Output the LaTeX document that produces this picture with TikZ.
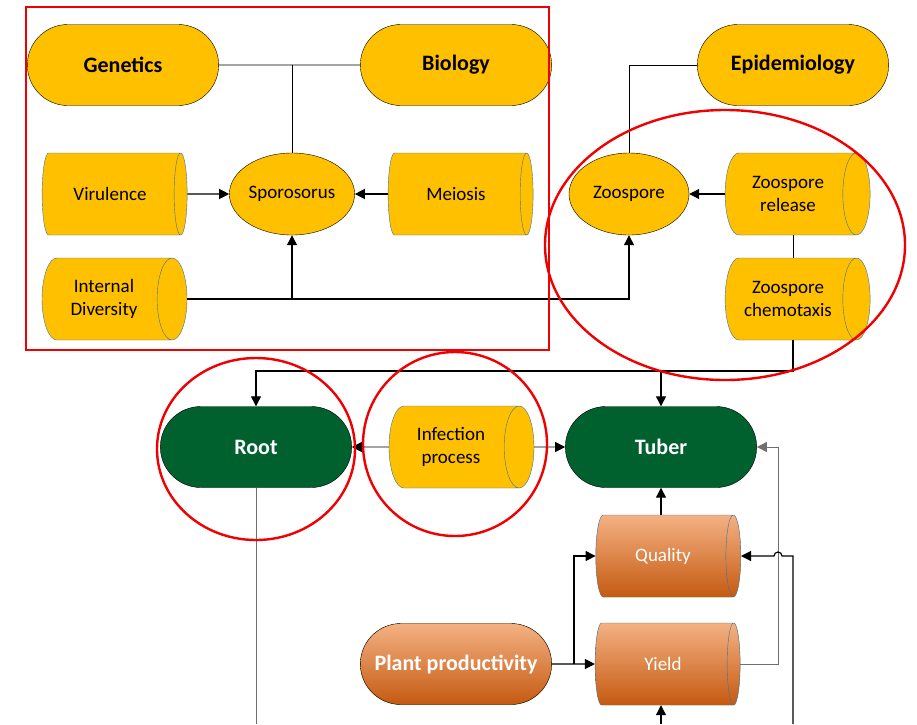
\documentclass[tikz,border=0pt]{standalone}
\usepackage{fontspec}
\setmainfont{Carlito}
\usetikzlibrary{arrows.meta,shapes.geometric,shapes.misc}
\definecolor{Gold}{HTML}{FFC000}
\definecolor{Forest}{HTML}{00612E}
\definecolor{OrangeTop}{HTML}{F4B183}
\definecolor{OrangeMid}{HTML}{ED7D31}
\definecolor{OrangeLow}{HTML}{C55A11}
\definecolor{Rim}{HTML}{41719C}
\definecolor{Alert}{HTML}{F00000}
\definecolor{Wire}{HTML}{6F6F6F}
\tikzset{
  topic/.style={draw=black,fill=Gold,rounded rectangle,minimum width=198pt,minimum height=81pt,font=\fontsize{22}{26}\selectfont\bfseries},
  organ/.style={topic,fill=Forest,text=white},
  driver/.style={topic,top color=OrangeTop,middle color=OrangeMid,bottom color=OrangeLow,text=white},
  factor/.style={draw=Rim,fill=Gold,cylinder,aspect=0.65,minimum width=82pt,minimum height=145pt,align=center,font=\fontsize{19}{23}\selectfont},
  trait/.style={factor,top color=OrangeTop,middle color=OrangeMid,bottom color=OrangeLow,text=white},
  stage/.style={draw=black,fill=Gold,ellipse,minimum width=120pt,minimum height=82pt,inner sep=1pt,font=\fontsize{19}{23}\selectfont},
  link/.style={line width=0.8pt,color=black},
  wire/.style={line width=0.8pt,color=Wire},
  feed/.style={-{Triangle[length=10pt,width=10pt]},line width=1.2pt},
  highlight/.style={draw=Alert,line width=2.4pt}
}
\begin{document}
\begin{tikzpicture}[x=1pt,y=-1pt]
  \useasboundingbox[fill=white] (0,0) rectangle (917,724);
  % upper block
  \node[topic] (gen) at (123,65) {Genetics};
  \node[topic] (bio) at (456,65) {Biology};
  \node[topic] (epi) at (793,65) {Epidemiology};
  \node[stage] (spor) at (292,194) {Sporosorus};
  \node[factor] (vir) at (110,194) {Virulence};
  \node[factor] (mei) at (456,194) {Meiosis};
  \node[factor] (div) at (104,299) {Internal\\Diversity};
  \node[stage] (zoo) at (629,194) {Zoospore};
  \node[factor] (rel) at (788,194) {Zoospore\\release};
  \node[factor] (chem) at (788,299) {Zoospore\\chemotaxis};
  % lower block
  \node[organ] (root) at (256,447) {Root};
  \node[factor] (inf) at (451,447) {Infection\\process};
  \node[organ] (tub) at (661,447) {Tuber};
  \node[trait] (qual) at (663,556) {Quality};
  \node[trait] (yld) at (663,664) {Yield};
  \node[driver] (prod) at (456,664) {Plant productivity};
  \coordinate (bus) at (0,371);
  \coordinate (floor) at (0,724);
  \coordinate (fork) at (574,664);
  \coordinate (riser) at (778,0);
  \coordinate (back) at (793,724);
  % connectors
  \draw[link] (gen) -- (bio);
  \draw[link] (spor) -- (spor |- gen);
  \draw[feed] (vir) -- (spor);
  \draw[feed] (mei) -- (spor);
  \draw[feed] (div.east) -| (zoo.south);
  \draw[feed] (spor |- div.east) -- (spor);
  \draw[link] (epi.west) -| (zoo.north);
  \draw[feed] (rel) -- (zoo);
  \draw[link] (rel.south -| back) -- (chem.north -| back);
  \draw[feed] (chem.south -| back) |- (root |- bus) -- (root.north);
  \draw[feed] (tub |- bus) -- (tub.north);
  \draw[feed,line width=0.8pt] (inf) -- (root);
  \draw[feed,line width=0.8pt] (inf) -- (tub);
  \draw[wire] (root.south) -- (root |- floor);
  \draw[feed] (qual.north -| tub) -- (tub.south);
  \draw[feed] (prod) -- (yld);
  \draw[feed] (fork) |- (qual.west);
  \draw[feed,wire] (yld.east) -| (riser |- tub) -- (tub.east);
  \draw[feed] (back) -- (back |- qual.east) -- ([xshift=4pt]riser |- qual.east) arc[start angle=0,end angle=-180,radius=4] -- (qual.east);
  \draw[feed] (tub |- floor) -- (tub |- yld.south);
  % red highlights
  \draw[highlight] (26,7) rectangle (549,350);
  \draw[highlight] (725,245) ellipse [x radius=180,y radius=135];
  \draw[highlight] (256,449) ellipse [x radius=99,y radius=91];
  \draw[highlight] (455,444) circle [radius=92];
\end{tikzpicture}
\end{document}
